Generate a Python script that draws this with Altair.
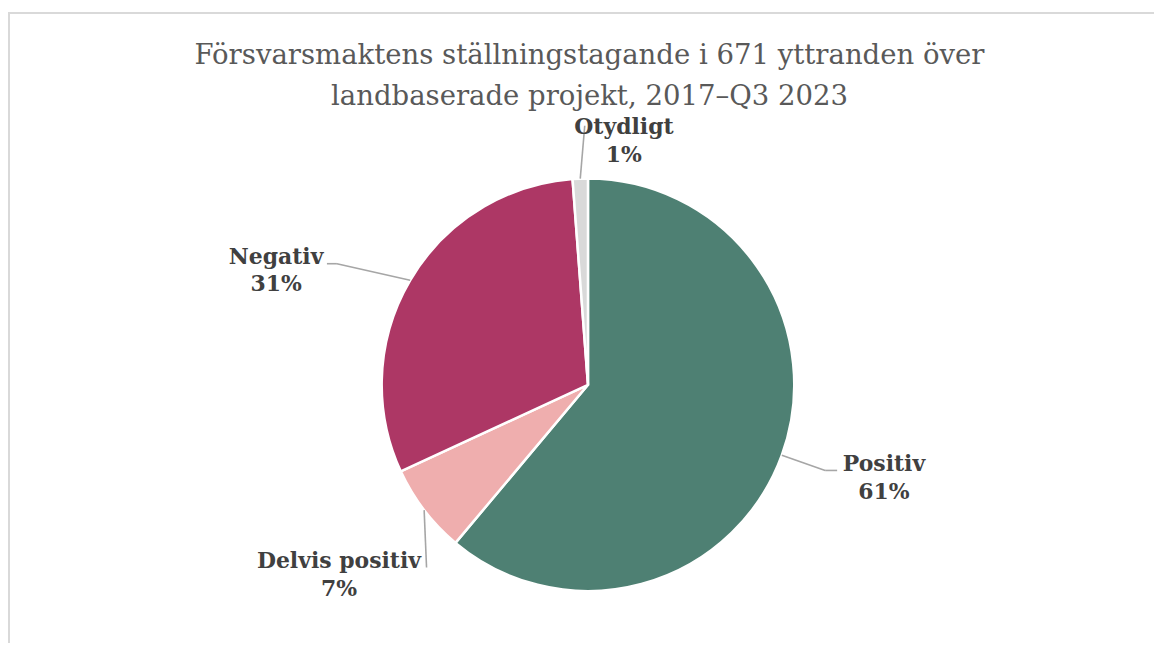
import math
import altair as alt
import pandas as pd

# ---- data ----
categories = ["Positiv", "Delvis positiv", "Negativ", "Otydligt"]
counts = [410, 47, 206, 8]
pct_labels = ["61%", "7%", "31%", "1%"]
colors = ["#4E8073", "#EFAEAE", "#AD3765", "#D9D9D9"]
title_lines = [
    "Försvarsmaktens ställningstagande i 671 yttranden över",
    "landbaserade projekt, 2017–Q3 2023",
]

# ---- layout / style ----
W, H = 1150, 636
CX, CY, R = 582, 377, 207
FONT = "DejaVu Serif"
LEADER = {
    "Positiv": [(43.5, 15.2), (55.5, 15.2)],
    "Delvis positiv": [(2.4, 57.5)],
    "Negativ": [(-73.5, -16.6), (-83.5, -16.6)],
    "Otydligt": [(4.5, -53.1)],
}
LABEL_OFF = {
    "Positiv": (102.5, 16.2),
    "Delvis positiv": (-85.5, 58.5),
    "Negativ": (-134.5, -16.8),
    "Otydligt": (43.8, -44.8),
}
LINE_GAP = 28

df = pd.DataFrame({"cat": categories, "n": counts, "order": list(range(len(categories)))})

# edge points at slice mid-angles (derived from the data)
total = sum(counts)
cum = 0.0
seg_rows, lab_rows = [], []
for cat, n, pct in zip(categories, counts, pct_labels):
    mid = (cum + n / 2) / total * 2 * math.pi
    cum += n
    ex, ey = CX + R * math.sin(mid), CY - R * math.cos(mid)
    pts = [(ex, ey)] + [(ex + dx, ey + dy) for dx, dy in LEADER[cat]]
    for (x1, y1), (x2, y2) in zip(pts[:-1], pts[1:]):
        seg_rows.append({"x": x1, "y": y1, "x2": x2, "y2": y2})
    lx, ly = ex + LABEL_OFF[cat][0], ey + LABEL_OFF[cat][1]
    lab_rows.append({"x": lx, "y": ly, "t": cat})
    lab_rows.append({"x": lx, "y": ly + LINE_GAP, "t": pct})

seg_df = pd.DataFrame(seg_rows)
lab_df = pd.DataFrame(lab_rows)
title_df = pd.DataFrame({"t": title_lines, "x": [CX + 1.5] * 2, "y": [55, 96]})
border_df = pd.DataFrame({"x": [0, 1], "y": [4, 4], "x2": [W, 1], "y2": [4, H]})

border = alt.Chart(border_df).mark_rule(stroke="#D9D9D9", strokeWidth=2).encode(
    x=alt.X("x:Q", scale=None), y=alt.Y("y:Q", scale=None),
    x2="x2:Q", y2="y2:Q",
)

pie = alt.Chart(df).mark_arc(outerRadius=R, stroke="white", strokeWidth=2.5).encode(
    theta=alt.Theta("n:Q", stack=True),
    color=alt.Color("cat:N", scale=alt.Scale(domain=categories, range=colors), legend=None),
    order=alt.Order("order:Q"),
    x=alt.value(CX),
    y=alt.value(CY),
)

leaders = alt.Chart(seg_df).mark_rule(stroke="#A6A6A6", strokeWidth=1.6).encode(
    x=alt.X("x:Q", scale=None), y=alt.Y("y:Q", scale=None),
    x2="x2:Q", y2="y2:Q",
)

labels = alt.Chart(lab_df).mark_text(
    font=FONT, fontSize=22, fontWeight="bold", color="#404040",
    align="center", baseline="alphabetic",
).encode(
    x=alt.X("x:Q", scale=None), y=alt.Y("y:Q", scale=None), text="t:N",
)

title = alt.Chart(title_df).mark_text(
    font=FONT, fontSize=27.6, color="#595959", align="center", baseline="alphabetic",
).encode(
    x=alt.X("x:Q", scale=None), y=alt.Y("y:Q", scale=None), text="t:N",
)

chart = alt.layer(border, pie, leaders, labels, title).properties(
    width=W, height=H, padding=0,
    autosize=alt.AutoSizeParams(type="none"),
    background="white",
).configure_view(stroke="transparent")

chart.save("out.html", embed_options={"renderer": "svg", "actions": False})
